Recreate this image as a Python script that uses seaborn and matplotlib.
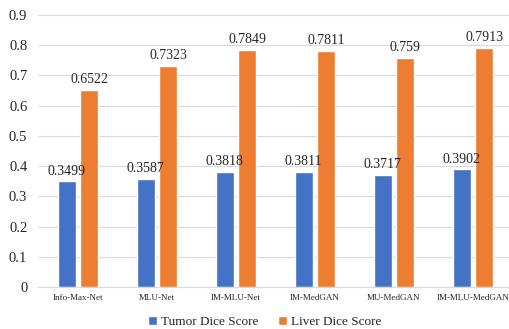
import pandas as pd
import matplotlib
matplotlib.use("Agg")
import matplotlib.pyplot as plt
import seaborn as sns

# Values
models = ["Info-Max-Net", "MLU-Net", "IM-MLU-Net", "IM-MedGAN", "MU-MedGAN", "IM-MLU-MedGAN"]
tumor_dice = [0.3499, 0.3587, 0.3818, 0.3811, 0.3717, 0.3902]
liver_dice = [0.6522, 0.7323, 0.7849, 0.7811, 0.759, 0.7913]
series_names = ["Tumor Dice Score", "Liver Dice Score"]
y_ticks = [0, 0.1, 0.2, 0.3, 0.4, 0.5, 0.6, 0.7, 0.8, 0.9]

df = pd.DataFrame({
    "Model": models * 2,
    "Score": tumor_dice + liver_dice,
    "Series": [series_names[0]] * len(models) + [series_names[1]] * len(models),
})

sns.set_style("white")
plt.rcParams["font.family"] = ["Liberation Serif", "DejaVu Serif"]

fig = plt.figure(figsize=(5.09, 3.29), dpi=100)
ax = fig.add_axes([0.0756, 0.1277, 0.931, 0.8267])

sns.barplot(data=df, x="Model", y="Score", hue="Series", order=models,
            hue_order=series_names, palette=["#4472C4", "#ED7D31"],
            saturation=1, width=0.57, gap=0.2, ax=ax, legend=True)

# Value labels on top of bars
for cont, vals in zip(ax.containers, [tumor_dice, liver_dice]):
    ax.bar_label(cont, labels=[str(v) for v in vals], padding=2.5, fontsize=10)

ax.set_ylim(0, 0.9)
ax.set_xlim(-0.5, 5.5)
ax.set_yticks(y_ticks)
ax.set_yticklabels([f"{t:g}" for t in y_ticks], fontsize=10.5)
ax.tick_params(axis="x", labelsize=6.5, length=0, pad=5)
ax.tick_params(axis="y", length=0, pad=8)
ax.yaxis.grid(True, color="#d9d9d9", linewidth=0.8)
ax.set_axisbelow(True)
ax.set_xlabel("")
ax.set_ylabel("")
for s in ["top", "right", "left"]:
    ax.spines[s].set_visible(False)
ax.spines["bottom"].set_color("#d9d9d9")

ax.legend(loc="center", bbox_to_anchor=(0.52, 0.021), bbox_transform=fig.transFigure,
          ncol=2, frameon=False, fontsize=9.5, handlelength=0.65, handleheight=0.65,
          handletextpad=0.3, columnspacing=1.5, borderpad=0)

fig.savefig("out.png", dpi=100)
